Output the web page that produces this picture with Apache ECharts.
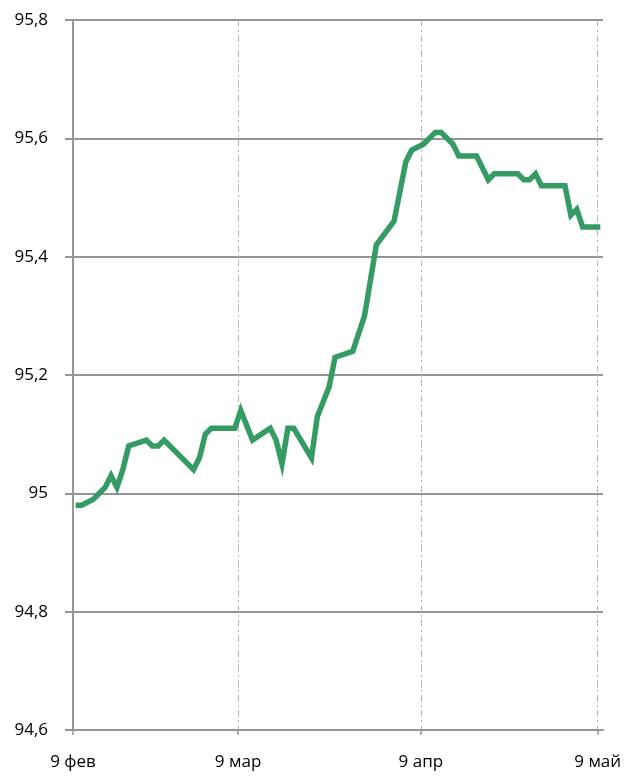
<!DOCTYPE html>
<html>
<head>
<meta charset="utf-8">
<script src="https://cdn.jsdelivr.net/npm/echarts@6/dist/echarts.min.js"></script>
<style>html,body{margin:0;padding:0;background:#fff}#c{width:628px;height:778px}</style>
</head>
<body>
<div id="c"></div>
<script>
var dates = ['2017-02-09','2017-02-10','2017-02-12','2017-02-14','2017-02-15','2017-02-16','2017-02-17','2017-02-18','2017-02-21','2017-02-22','2017-02-23','2017-02-24','2017-03-01','2017-03-02','2017-03-03','2017-03-04','2017-03-08','2017-03-09','2017-03-11','2017-03-14','2017-03-15','2017-03-16','2017-03-17','2017-03-18','2017-03-21','2017-03-22','2017-03-24','2017-03-25','2017-03-28','2017-03-30','2017-04-01','2017-04-04','2017-04-06','2017-04-07','2017-04-09','2017-04-11','2017-04-12','2017-04-14','2017-04-15','2017-04-18','2017-04-20','2017-04-21','2017-04-25','2017-04-26','2017-04-27','2017-04-28','2017-04-29','2017-05-03','2017-05-04','2017-05-05','2017-05-06','2017-05-09'];
var values = [94.98,94.98,94.99,95.01,95.03,95.01,95.04,95.08,95.09,95.08,95.08,95.09,95.04,95.06,95.10,95.11,95.11,95.14,95.09,95.11,95.09,95.05,95.11,95.11,95.06,95.13,95.18,95.23,95.24,95.30,95.42,95.46,95.56,95.58,95.59,95.61,95.61,95.59,95.57,95.57,95.53,95.54,95.54,95.53,95.53,95.54,95.52,95.52,95.47,95.48,95.45,95.45];
var xTickDates = ['2017-02-09','2017-03-09','2017-04-09','2017-05-09'];
var xTickLabels = ['9 фев','9 мар','9 апр','9 май'];
var yMin = 94.6, yMax = 95.8, yStep = 0.2;

var DAY = 86400000;
function ts(s){ var p = s.split('-'); return Date.UTC(+p[0], +p[1]-1, +p[2]); }
var xTicks = xTickDates.map(ts);
// points sit in the middle of their day, as on the reference date axis
var seriesData = dates.map(function(d,i){ return [ts(d) + 0.45*DAY, values[i]]; });

var chart = echarts.init(document.getElementById('c'), null, {renderer:'canvas'});
var gridColor = '#959595';
var font = '"Open Sans", sans-serif';
chart.setOption({
  animation: false,
  grid: {left: 73, right: 25, top: 20, bottom: 48, containLabel: false},
  xAxis: {
    type: 'value',
    min: xTicks[0], max: xTicks[xTicks.length-1] + 0.9*DAY,
    axisLine: {show: true, lineStyle: {color: gridColor, width: 2}},
    axisTick: {show: true, length: 5, inside: false, customValues: xTicks, lineStyle: {color: gridColor, width: 1.5}},
    axisLabel: {
      customValues: xTicks, margin: 24, color: '#000', fontSize: 17, fontFamily: font,
      showMinLabel: true, showMaxLabel: true,
      formatter: function(v){ var i = xTicks.indexOf(v); return i >= 0 ? xTickLabels[i] : ''; }
    },
    splitLine: {show: true, lineStyle: {color: '#b8b8b8', width: 1, type: [7,3,2,3]}}
  },
  yAxis: {
    type: 'value', min: yMin, max: yMax, interval: yStep,
    axisLine: {show: true, lineStyle: {color: gridColor, width: 2}},
    axisTick: {show: true, length: 8, inside: false, lineStyle: {color: gridColor, width: 2}},
    axisLabel: {
      margin: 25, color: '#000', fontSize: 17, fontFamily: font,
      formatter: function(v){ return (Math.round(v*10)/10).toString().replace('.', ','); }
    },
    splitLine: {show: true, lineStyle: {color: gridColor, width: 2}}
  },
  series: [{
    type: 'line', data: seriesData, showSymbol: false, symbol: 'none', clip: false,
    lineStyle: {color: '#359b65', width: 5.5, join: 'miter'}
  }]
});
</script>
</body>
</html>
